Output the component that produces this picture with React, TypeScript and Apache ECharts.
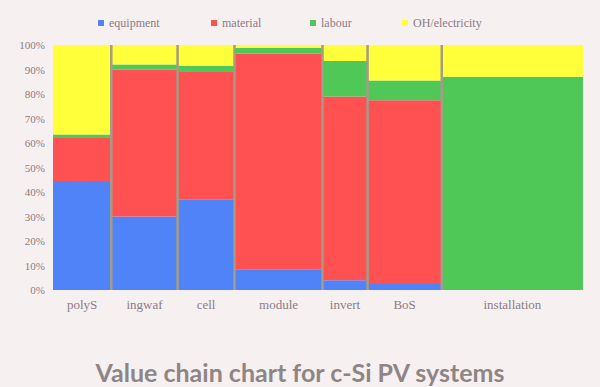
import React, { useEffect, useRef } from "react";
import * as echarts from "echarts";

const categories = ["polyS", "ingwaf", "cell", "module", "invert", "BoS", "installation"];
const widths = [11, 12.5, 10.75, 16.6, 8.5, 14, 26.65];
const equipment = [44.5, 30, 37, 8.5, 4, 2.5, 0];
const material = [17.5, 60, 52, 88, 75, 75, 0];
const labour = [1.5, 2, 2.5, 2.3, 14.5, 8, 87];
const ohElectricity = [36.5, 8, 8.5, 1.2, 6.5, 14.5, 13];
const seriesNames = ["equipment", "material", "labour", "OH/electricity"];
const yTicks = [0, 10, 20, 30, 40, 50, 60, 70, 80, 90, 100];

const colors = ["#5083f7", "#ff5152", "#50c858", "#ffff3a"];
const TEXT = "#8a7c84";

export default function App() {
  const ref = useRef<HTMLDivElement>(null);
  useEffect(() => {
    document.body.style.margin = "0";
    const chart = echarts.init(ref.current!, null, { renderer: "svg" });
    const stacks = [equipment, material, labour, ohElectricity];
    const starts: number[] = [];
    let acc = 0;
    widths.forEach((w) => {
      starts.push(acc);
      acc += w;
    });
    const total = acc;

    const seriesData = stacks.map((vals, si) =>
      vals.map((v, i) => {
        let base = 0;
        for (let k = 0; k < si; k++) base += stacks[k][i];
        return [starts[i], starts[i] + widths[i], base, base + v];
      })
    );

    const rectSeries = seriesNames.map((name, si) => ({
      type: "custom",
      name,
      itemStyle: { color: colors[si] },
      renderItem: (params: any, api: any) => {
        const p0 = api.coord([api.value(0), api.value(3)]);
        const p1 = api.coord([api.value(1), api.value(2)]);
        return {
          type: "rect",
          shape: { x: p0[0], y: p0[1], width: p1[0] - p0[0], height: p1[1] - p0[1] },
          style: { fill: colors[si] },
        };
      },
      encode: { x: [0, 1], y: [2, 3] },
      data: seriesData[si],
    }));

    const sepData = starts.slice(1).map((s) => [s]);
    const sepSeries = {
      type: "custom",
      name: "sep",
      renderItem: (params: any, api: any) => {
        const a = api.coord([api.value(0), 0]);
        const b = api.coord([api.value(0), 100]);
        return {
          type: "line",
          shape: { x1: a[0], y1: a[1], x2: b[0], y2: b[1] },
          style: { stroke: "#a49c84", lineWidth: 2.5 },
        };
      },
      encode: { x: 0 },
      data: sepData,
      silent: true,
    };

    const labelSeries = {
      type: "custom",
      name: "labels",
      renderItem: (params: any, api: any) => {
        const c = api.coord([api.value(0), 0]);
        return {
          type: "text",
          x: c[0],
          y: c[1] + 14,
          style: {
            text: categories[params.dataIndex],
            fill: TEXT,
            font: "13px 'Liberation Serif', serif",
            align: "center",
            verticalAlign: "middle",
          },
        };
      },
      encode: { x: 0 },
      data: starts.map((s, i) => [s + widths[i] / 2]),
      silent: true,
    };

    const legendLeft = [93, 206, 305, 397];

    chart.setOption({
      animation: false,
      backgroundColor: "#f7f0f1",
      textStyle: { fontFamily: "Liberation Serif" },
      title: {
        text: "Value chain chart for c-Si PV systems",
        left: "center",
        top: 359,
        padding: 0,
        textStyle: { fontFamily: "Lato", fontSize: 25, fontWeight: "bold", color: "#8f8585", lineHeight: 26 },
      },
      legend: seriesNames.map((n, i) => ({
        data: [n],
        left: legendLeft[i],
        top: 12,
        icon: "rect",
        itemWidth: 6,
        itemHeight: 6,
        itemGap: 4,
        textStyle: { color: TEXT, fontFamily: "Liberation Serif", fontSize: 12 },
      })),
      grid: { left: 53, right: 17, top: 45, bottom: 97 },
      xAxis: {
        type: "value",
        min: 0,
        max: total,
        show: false,
      },
      yAxis: {
        type: "value",
        min: 0,
        max: 100,
        interval: 10,
        axisLine: { show: false },
        axisTick: { show: false },
        splitLine: { show: false },
        axisLabel: {
          formatter: (v: number) => (yTicks.includes(v) ? v + "%" : ""),
          color: TEXT,
          fontFamily: "Liberation Serif",
          fontSize: 11,
          margin: 8,
        },
      },
      series: [...rectSeries, sepSeries, labelSeries],
    });
    return () => chart.dispose();
  }, []);
  return <div ref={ref} style={{ width: 600, height: 387 }} />;
}
